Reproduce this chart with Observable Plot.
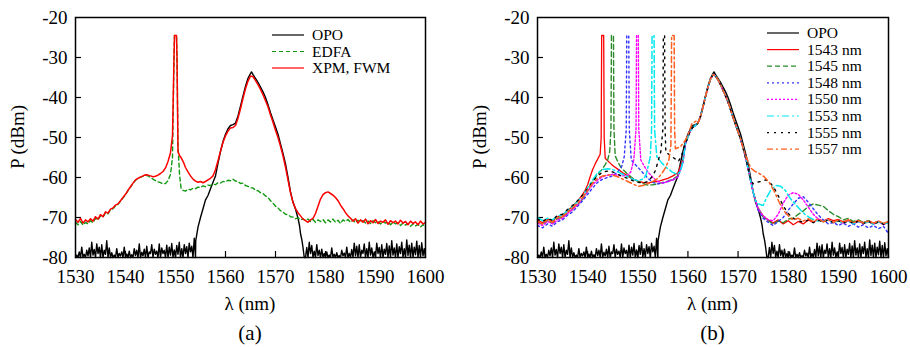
<!DOCTYPE html>
<html><head><meta charset="utf-8">
<script src="https://cdn.jsdelivr.net/npm/d3@7"></script>
<script src="https://cdn.jsdelivr.net/npm/@observablehq/plot@0.6"></script>
<style>
body{margin:0;background:#fff;}
#row{display:flex;width:910px;height:347px;}
</style></head><body><div id="row"></div>
<script>
const xTicks = [1530,1540,1550,1560,1570,1580,1590,1600];
const yTicks = [-80,-70,-60,-50,-40,-30,-20];
const panelLabels = ["(a)","(b)"];
const legendA = ["OPO","EDFA","XPM, FWM"];
const legendB = ["OPO","1543 nm","1545 nm","1548 nm","1550 nm","1553 nm","1555 nm","1557 nm"];

// OPO noise floor, sampled every 0.25 nm from 1530 and from 1576
const opoNoiseLeft = [
-80,-79.4,-80,-78.6, -80,-77.4,-80,-79.2, -80,-78.2,-79.6,-77.6, -80,-76.2,-79.4,-78.0,
-80,-76.6,-79.0,-77.4, -80,-76.8,-80,-78.2, -79.2,-75.8,-80,-77.6, -80,-78.8,-80,-79.4,
-80,-77.8,-80,-79.0, -79.6,-78.6,-80,-77.4, -80,-79.1,-80,-78.4, -80,-79.3,-80,-77.8,
-79.5,-78.2,-80,-76.6, -80,-78.7,-79.6,-77.9, -80,-77.2,-80,-78.6, -79,-76.8,-80,-77.9,
-79.2,-78.4,-80,-76.6, -80,-77.6,-79,-78.2, -80,-76.9,-80,-77.4, -79.4,-76.5,-80,-78.1,
-80,-77.0,-79.2,-76.2, -80,-77.8,-80,-76.8, -79.0,-77.3,-80,-76.4, -78.6,-77.2,-80,-75.2];
const opoMain = [[1554,-80],[1554.05,-75.8],[1554.5,-72.4],[1555,-70],[1555.5,-67.8],[1556,-65.6],[1556.5,-64.5],
[1557,-62.8],[1557.5,-61.2],[1558,-59.6],[1558.5,-56.4],[1559,-53.5],[1559.5,-51],[1560,-49.2],[1560.5,-47.8],
[1561,-47.0],[1561.5,-46.8],[1562,-46.4],[1562.5,-44.6],[1563,-42.2],[1563.5,-39.6],[1564,-37.2],[1564.5,-35.2],
[1565,-34.0],[1565.2,-33.6],[1565.5,-34.3],[1566,-35.2],[1566.5,-36.2],[1567,-37.4],[1567.5,-38.6],[1568,-40.0],
[1568.5,-41.8],[1569,-43.8],[1569.5,-45.6],[1570,-47.4],[1570.5,-49.2],[1571,-51.6],[1571.5,-54],[1572,-56.6],
[1572.5,-60],[1573,-63.6],[1573.5,-66.2],[1574,-67.9],[1574.5,-70.2],[1574.8,-72],[1575,-74],[1575.3,-75.8],
[1575.5,-77.5],[1575.75,-80]];
const opoNoiseRight = [
-80,-77.5,-80,-76.2, -79,-77,-80,-78.4, -80,-76.8,-79.5,-78.2, -80,-77.9,-80,-79, -80,-78.6,-80,-79.4,
-80,-77.6,-80,-79.2, -80,-78.8,-80,-79.5, -80,-78.2,-79.6,-78.9, -80,-77.4,-80,-79, -80,-78,-80,-76.4,
-79.6,-77.2,-80,-76.8, -80,-78.2,-79,-76.6, -80,-77.8,-80,-76.2, -79.4,-77.6,-80,-78.6, -80,-76.4,-79,-77.5,
-80,-76.8,-80,-77.9, -79.2,-76.5,-80,-77.1, -80,-75.8,-79.4,-77.6, -80,-76.6,-80,-77.3, -79,-76.2,-80,-77.8,
-80,-75.6,-79.5,-76.9, -80,-76.4,-80,-77.4, -79.3,-75.9,-80,-77, -80,-76.3,-79.6,-77.8, -80];

// Panel (a)
const xpmFwm = [[1530,-70.5],[1530.5,-71.2],[1531,-70.2],[1531.5,-71.4],[1532,-70.6],[1532.5,-71.1],[1533,-70.3],[1533.5,-70.9],
[1534,-69.8],[1534.5,-70.4],[1535,-69.3],[1535.5,-69.8],[1536,-68.6],[1536.5,-68.9],[1537,-67.9],[1537.5,-67.6],[1538,-66.9],
[1538.5,-66.6],[1539,-65.8],[1539.5,-65.0],[1540,-64.2],[1540.5,-63.2],[1541,-62.3],[1541.5,-61.4],[1542,-60.6],[1542.5,-60.2],
[1543,-59.9],[1543.5,-59.6],[1544,-59.3],[1544.5,-59.4],[1545,-59.6],[1545.5,-59.8],[1546,-59.7],[1546.5,-59.4],[1547,-59.0],
[1547.5,-58.5],[1548,-57.6],[1548.5,-56.0],[1549,-53.8],[1549.4,-49.5],[1549.7,-30],[1549.8,-24.5],[1550.2,-24.5],[1550.3,-30],
[1550.5,-53.5],[1550.8,-54.5],[1551.2,-55.2],[1551.6,-56.2],[1552,-57.5],[1552.5,-58.6],[1553,-59.6],[1553.5,-60.4],[1554,-60.9],
[1554.5,-61.2],[1555,-61.0],[1555.5,-61.3],[1556,-61.0],[1556.5,-60.6],[1557,-60.2],[1557.5,-59.6],[1558,-58.0],[1558.5,-55.8],
[1559,-53.4],[1559.5,-51.2],[1560,-49.6],[1560.5,-48.4],[1561,-47.6],[1561.5,-47.5],[1562,-47.0],[1562.5,-45.2],[1563,-42.8],
[1563.5,-40.2],[1564,-37.8],[1564.5,-35.9],[1565,-34.6],[1565.5,-34.8],[1566,-35.8],[1566.5,-36.8],[1567,-38.0],[1567.5,-39.3],
[1568,-40.8],[1568.5,-42.3],[1569,-44.4],[1569.5,-46.2],[1570,-48.2],[1570.5,-50.0],[1571,-52.2],[1571.5,-54.6],[1572,-57.4],
[1572.5,-60.6],[1573,-63.8],[1573.5,-66.2],[1574,-67.8],[1574.5,-68.8],[1575,-69.6],[1575.5,-70.4],[1576,-70.8],[1576.5,-71.2],
[1577,-70.6],[1577.5,-70.2],[1578,-69.0],[1578.5,-67.2],[1579,-65.4],[1579.5,-64.3],[1580,-63.8],[1580.5,-63.6],[1581,-64.0],
[1581.5,-64.4],[1582,-65.0],[1582.5,-65.8],[1583,-66.9],[1583.5,-67.8],[1584,-68.8],[1584.5,-69.6],[1585,-70.2],[1585.5,-70.9],
[1586,-70.3],[1586.5,-71.4],[1587,-70.6],[1587.5,-71.2],[1588,-70.4],[1588.5,-71.6],[1589,-70.8],[1589.5,-71.3],[1590,-70.5],
[1590.5,-71.5],[1591,-70.9],[1591.5,-71.2],[1592,-70.6],[1592.5,-71.7],[1593,-70.8],[1593.5,-71.3],[1594,-70.9],[1594.5,-71.6],
[1595,-70.7],[1595.5,-71.4],[1596,-71.0],[1596.5,-71.8],[1597,-70.9],[1597.5,-71.5],[1598,-71.1],[1598.5,-71.8],[1599,-70.9],
[1599.5,-71.6],[1600,-71.2]];
const edfa = [[1530,-71.2],[1530.5,-71.8],[1531,-71],[1531.5,-71.9],[1532,-71.2],[1532.5,-71.6],[1533,-70.8],[1533.5,-71.3],
[1534,-70.2],[1534.5,-70.6],[1535,-69.6],[1535.5,-69.9],[1536,-68.8],[1536.5,-69.1],[1537,-68.1],[1537.5,-67.8],[1538,-67.1],
[1538.5,-66.7],[1539,-65.9],[1539.5,-65.1],[1540,-64.3],[1540.5,-63.3],[1541,-62.4],[1541.5,-61.5],[1542,-60.7],[1542.5,-60.2],
[1543,-59.9],[1543.5,-59.7],[1544,-59.4],[1544.5,-59.6],[1545,-60.0],[1545.5,-60.4],[1546,-60.8],[1546.5,-61.1],[1547,-61.3],
[1547.5,-61.6],[1548,-61.5],[1548.5,-60.8],[1549,-59.2],[1549.4,-55],[1549.7,-30],[1549.8,-24.5],[1550.2,-24.5],[1550.3,-30],
[1550.5,-52],[1550.8,-59],[1551.1,-62.6],[1551.5,-63.2],[1552,-63.4],[1552.5,-62.9],[1553,-63.1],[1553.5,-62.7],[1554,-62.8],
[1554.5,-62.4],[1555,-62.5],[1555.5,-62.1],[1556,-62.3],[1556.5,-61.9],[1557,-62.0],[1557.5,-61.6],[1558,-61.8],[1558.5,-61.3],
[1559,-61.4],[1559.5,-61.0],[1560,-61.1],[1560.5,-60.7],[1561,-60.8],[1561.5,-60.4],[1562,-60.9],[1562.5,-61.0],[1563,-61.5],
[1563.5,-61.4],[1564,-62.0],[1564.5,-62.2],[1565,-62.6],[1565.5,-62.6],[1566,-63.2],[1566.5,-63.3],[1567,-63.8],[1567.5,-64.0],
[1568,-64.6],[1568.5,-65.0],[1569,-65.8],[1569.5,-66.4],[1570,-67.2],[1570.5,-67.6],[1571,-68.3],[1571.5,-68.6],[1572,-69.2],
[1572.5,-69.3],[1573,-69.8],[1573.5,-69.9],[1574,-70.3],[1574.5,-70.1],[1575,-70.6],[1575.5,-70.3],[1576,-70.8],[1576.5,-70.4],
[1577,-71.0],[1577.5,-70.5],[1578,-71.2],[1578.5,-70.6],[1579,-71.0],[1579.5,-70.5],[1580,-71.3],[1580.5,-70.6],[1581,-71.1],
[1581.5,-70.4],[1582,-71.2],[1582.5,-70.7],[1583,-71.5],[1583.5,-70.6],[1584,-71.0],[1584.5,-70.5],[1585,-71.2],[1585.5,-70.6],
[1586,-71.3],[1586.5,-70.7],[1587,-71.1],[1587.5,-70.8],[1588,-71.4],[1588.5,-70.9],[1589,-71.5],[1589.5,-70.8],[1590,-71.3],
[1590.5,-71.0],[1591,-71.6],[1591.5,-71.0],[1592,-71.4],[1592.5,-71.1],[1593,-71.8],[1593.5,-71.2],[1594,-71.6],[1594.5,-71.3],
[1595,-72.0],[1595.5,-71.4],[1596,-71.9],[1596.5,-71.5],[1597,-72.2],[1597.5,-71.6],[1598,-72.1],[1598.5,-71.7],[1599,-72.4],
[1599.5,-71.8],[1600,-72.2]];

// Panel (b): shared main lobe read once, plus each pump's own sides
const lobeB = [[1559.5,-51.6],[1560,-49.8],[1560.5,-48.3],[1561,-47.4],[1561.5,-47.0],[1562,-46.4],[1562.5,-44.8],[1563,-42.4],
[1563.5,-39.8],[1564,-37.4],[1564.5,-35.4],[1565,-34.3],[1565.5,-34.6],[1566,-35.6],[1566.5,-36.8],[1567,-38.2],[1567.5,-39.6],
[1568,-41.2],[1568.5,-43.0],[1569,-45.0],[1569.5,-46.8],[1570,-48.6],[1570.5,-50.4],[1571,-52.6],[1571.5,-55.0],[1572,-57.8],
[1572.5,-60.8],[1573,-63.6],[1573.5,-65.8]];

const p1543L = [[1530,-70.6],[1531,-71.3],[1532,-70.4],[1533,-70.9],[1534,-69.8],[1535,-69.4],[1536,-68.3],[1537,-67.2],[1538,-65.9],
[1539,-64.2],[1539.5,-63.2],[1540,-61.8],[1540.5,-59.8],[1541,-58.0],[1541.5,-56.6],[1542,-55.4],[1542.5,-54.2],[1542.7,-50],
[1542.8,-24.5],[1543.2,-24.5],[1543.3,-50],[1543.5,-55.2],[1544,-55.8],[1544.5,-56.4],[1545,-57.0],[1546,-57.9],[1547,-58.8],
[1548,-59.6],[1549,-60.4],[1550,-60.9],[1551,-61.2],[1552,-61.4],[1553,-61.1],[1554,-61.0],[1555,-60.6],[1556,-60.2],[1557,-59.6],
[1558,-58.8],[1559,-55.5]];
const p1543R = [[1574,-67.8],[1575,-69.6],[1576,-70.6],[1577,-71.4],[1578,-70.6],[1579,-71.6],[1580,-70.8],[1581,-71.8],[1582,-71.0],
[1583,-71.6],[1584,-70.6],[1585,-71.2],[1586,-70.4],[1587,-70.9],[1588,-70.3],[1589,-70.8],[1590,-70.5],[1591,-71.1],[1592,-70.6],
[1593,-71.2],[1594,-70.7],[1595,-71.3],[1596,-70.8],[1597,-71.4],[1598,-70.9],[1599,-71.5],[1600,-71.0]];
const p1545L = [[1530,-71.0],[1531,-71.8],[1532,-70.8],[1533,-71.5],[1534,-70.2],[1535,-70.0],[1536,-68.9],[1537,-67.9],[1538,-66.8],
[1539,-65.4],[1540,-63.4],[1541,-61.0],[1542,-59.2],[1543,-57.8],[1543.5,-56.8],[1544,-55.6],[1544.4,-53.5],[1544.65,-48],
[1544.75,-24.5],[1545.15,-24.5],[1545.25,-48],[1545.5,-54.6],[1546,-56.0],[1546.5,-57.2],[1547,-58.0],[1548,-59.2],[1549,-60.2],
[1550,-60.9],[1551,-61.5],[1552,-61.9],[1553,-61.8],[1554,-61.6],[1555,-61.2],[1556,-60.9],[1557,-60.4],[1558,-59.6],[1559,-56]];
const p1545R = [[1574,-67.6],[1575,-69.8],[1576,-70.8],[1577,-71.6],[1578,-70.9],[1579,-71.3],[1580,-70.4],[1581,-70.2],[1582,-69.2],
[1583,-68.4],[1584,-67.2],[1585,-66.6],[1586,-66.9],[1587,-67.2],[1588,-68.3],[1589,-69.2],[1590,-69.8],[1591,-70.6],[1592,-70.2],
[1593,-71.0],[1594,-70.6],[1595,-71.3],[1596,-70.8],[1597,-71.5],[1598,-71.0],[1599,-71.6],[1600,-71.2]];
const p1548L = [[1530,-72.0],[1531,-72.6],[1532,-71.6],[1533,-72.2],[1534,-71.0],[1535,-70.6],[1536,-69.4],[1537,-68.6],[1538,-67.2],
[1539,-65.8],[1540,-64.2],[1541,-62.6],[1542,-61.2],[1543,-60.4],[1544,-60.0],[1545,-59.6],[1546,-58.6],[1546.8,-57.2],[1547.3,-54.8],
[1547.7,-48],[1547.8,-24.5],[1548.2,-24.5],[1548.3,-48],[1548.7,-55.6],[1549.2,-56.4],[1550,-57.4],[1551,-58.8],[1552,-60.2],
[1553,-61.2],[1554,-61.6],[1555,-61.4],[1556,-61.0],[1557,-60.6],[1558,-59.8],[1559,-56.2]];
const p1548R = [[1574,-68.2],[1575,-70.2],[1576,-71.2],[1577,-72.0],[1578,-71.0],[1579,-70.0],[1580,-68.2],[1581,-66.6],[1582,-65.2],
[1583,-64.8],[1584,-66.2],[1585,-67.8],[1586,-69.4],[1587,-70.6],[1588,-71.6],[1589,-71.2],[1590,-72.0],[1591,-71.4],[1592,-72.2],
[1593,-71.6],[1594,-72.4],[1595,-71.8],[1596,-72.6],[1597,-72.0],[1598,-72.8],[1599,-72.2],[1600,-74.0]];
const p1550L = [[1530,-71.4],[1531,-72.0],[1532,-71.0],[1533,-71.6],[1534,-70.6],[1535,-70.2],[1536,-69.0],[1537,-68.0],[1538,-66.8],
[1539,-65.2],[1540,-63.4],[1541,-61.8],[1542,-60.6],[1543,-59.8],[1544,-59.4],[1545,-59.2],[1546,-59.4],[1547,-59.6],[1548,-59.4],
[1548.6,-58.6],[1549.2,-55.6],[1549.65,-48],[1549.75,-24.5],[1550.1,-24.5],[1550.2,-48],[1550.6,-55.6],[1551.2,-57.0],[1552,-58.6],
[1553,-60.0],[1554,-61.0],[1555,-61.4],[1556,-61.0],[1557,-60.6],[1558,-59.8],[1559,-56.2]];
const p1550R = [[1574,-67.8],[1575,-69.6],[1576,-70.6],[1577,-70.8],[1578,-69.2],[1579,-66.4],[1580,-64.4],[1581,-63.8],[1582,-64.2],
[1583,-65.6],[1584,-67.4],[1585,-69.2],[1586,-70.4],[1587,-71.0],[1588,-70.6],[1589,-71.3],[1590,-70.8],[1591,-71.5],[1592,-70.9],
[1593,-71.6],[1594,-71.0],[1595,-71.6],[1596,-71.0],[1597,-71.7],[1598,-71.1],[1599,-71.8],[1600,-71.2]];
const p1553L = [[1530,-70.0],[1531,-70.8],[1532,-70.2],[1533,-70.6],[1534,-69.6],[1535,-69.4],[1536,-68.2],[1537,-67.2],[1538,-66.0],
[1539,-64.6],[1540,-62.6],[1541,-60.6],[1542,-58.8],[1543,-58.0],[1544,-57.8],[1545,-58.0],[1546,-58.6],[1547,-59.2],[1548,-59.8],
[1549,-60.4],[1550,-60.8],[1551,-60.4],[1551.6,-59.6],[1552.1,-57.0],[1552.5,-54.8],[1552.75,-48],[1552.85,-24.5],[1553.25,-24.5],
[1553.35,-48],[1553.8,-54.8],[1554.8,-56.4],[1555.8,-57.6],[1556.8,-58.6],[1557.8,-59.2],[1558.5,-58.6],[1559,-56]];
const p1553R = [[1574,-66.6],[1575,-67.0],[1575.7,-65.0],[1576.5,-63.2],[1577.5,-62.0],[1578.5,-62.2],[1579.4,-63.2],[1580.5,-65.4],
[1581.5,-66.8],[1582.5,-68.2],[1583.5,-69.4],[1584.5,-70.2],[1585.5,-70.8],[1587,-71.0],[1588,-70.6],[1589,-71.3],[1590,-70.8],
[1591,-71.4],[1592,-70.9],[1593,-71.6],[1594,-71.0],[1595,-71.5],[1596,-71.1],[1597,-71.7],[1598,-71.1],[1599,-71.6],[1600,-71.3]];
const p1555L = [[1530,-70.4],[1531,-71.0],[1532,-70.2],[1533,-70.8],[1534,-69.4],[1535,-69.2],[1536,-68.0],[1537,-67.0],[1538,-65.8],
[1539,-64.4],[1540,-62.8],[1541,-61.0],[1542,-59.6],[1543,-58.6],[1544,-58.4],[1545,-58.6],[1546,-59.2],[1547,-59.8],[1548,-60.2],
[1549,-60.8],[1550,-61.2],[1551,-61.4],[1552,-61.0],[1553,-59.6],[1553.6,-58.0],[1554.1,-55.6],[1554.6,-53.5],[1555.0,-48],
[1555.1,-24.5],[1555.35,-24.5],[1555.45,-48],[1555.6,-53.8],[1556.2,-54.2],[1556.8,-54.8],[1557.5,-55.4],[1558.1,-56.0],
[1558.8,-54.2],[1559.3,-52.2]];
const p1555R = [[1572.5,-60.4],[1573,-61.6],[1573.75,-61.2],[1574.5,-61.0],[1575.5,-60.6],[1576.3,-61.2],[1577.1,-62.4],[1578.1,-64.8],
[1579.1,-67.3],[1580,-69.0],[1581,-70.2],[1582,-70.8],[1583,-71.2],[1584,-70.6],[1585,-71.3],[1586,-70.7],[1587,-71.2],[1588,-70.6],
[1589,-71.3],[1590,-70.8],[1591,-71.4],[1592,-70.8],[1593,-71.5],[1594,-70.9],[1595,-71.5],[1596,-71.0],[1597,-71.6],[1598,-71.1],
[1599,-71.7],[1600,-71.2]];
const p1557L = [[1530,-71.0],[1531,-71.6],[1532,-70.6],[1533,-71.2],[1534,-70.0],[1535,-69.8],[1536,-68.6],[1537,-67.6],[1538,-66.4],
[1539,-65.0],[1540,-63.2],[1541,-61.4],[1542,-60.2],[1543,-59.6],[1544,-59.4],[1545,-59.4],[1546,-59.8],[1547,-60.4],[1548,-61.0],
[1549,-61.6],[1550,-62.2],[1551,-62.0],[1552,-61.6],[1553,-61.0],[1554,-60.2],[1554.8,-59.0],[1555.6,-57.4],[1556.2,-55.6],
[1556.6,-52],[1556.75,-24.5],[1557.25,-24.5],[1557.35,-48],[1557.5,-52.8],[1558.5,-52.3],[1559.5,-50.7],[1560.3,-48.4],
[1560.8,-46.5],[1561.8,-45.8]];
const p1557R = [[1571.5,-54.6],[1572,-56.0],[1572.5,-57.6],[1573.3,-58.4],[1574.2,-59.0],[1575.2,-59.8],[1576.2,-61.2],[1577.2,-63.4],
[1578.2,-66.2],[1579.2,-68.4],[1580.2,-69.8],[1581,-70.6],[1582,-70.2],[1583,-70.9],[1584,-70.3],[1585,-71.0],[1586,-70.4],
[1587,-71.1],[1588,-70.5],[1589,-71.2],[1590,-70.6],[1591,-71.2],[1592,-70.7],[1593,-71.3],[1594,-70.8],[1595,-71.4],[1596,-70.9],
[1597,-71.4],[1598,-70.9],[1599,-71.5],[1600,-71.0]];

// assemble
const opo = [
  ...opoNoiseLeft.map((v, i) => [1530 + i * 0.25, v]),
  ...opoMain,
  ...opoNoiseRight.map((v, i) => [1576 + i * 0.25, v])
];
const lobe = (lo, hi) => lobeB.filter(d => d[0] >= lo && d[0] <= hi);
const pumps = [
  [...p1543L, ...lobe(1559.5, 1573.5), ...p1543R],
  [...p1545L, ...lobe(1559.5, 1573.5), ...p1545R],
  [...p1548L, ...lobe(1559.5, 1573.5), ...p1548R],
  [...p1550L, ...lobe(1559.5, 1573.5), ...p1550R],
  [...p1553L, ...lobe(1559.5, 1573.5), ...p1553R],
  [...p1555L, ...lobe(1559.5, 1572), ...p1555R],
  [...p1557L, ...lobe(1562, 1571), ...p1557R]
];

const FONT = '"Liberation Serif","Times New Roman",serif';
const stylesA = [
  {color:"#000000", dash:null, w:1.4},
  {color:"#119911", dash:"4,3", w:1.4},
  {color:"#ff0000", dash:null, w:1.5}
];
const stylesB = [
  {color:"#000000", dash:null, w:1.4},
  {color:"#ff0000", dash:null, w:1.3},
  {color:"#2a8c2a", dash:"5,3", w:1.4},
  {color:"#3333ff", dash:"2,3", w:1.4},
  {color:"#ff00ff", dash:"2,2", w:1.4},
  {color:"#00e8f0", dash:"7,3,2,3", w:1.5},
  {color:"#000000", dash:"2,5", w:1.4},
  {color:"#ff5f1f", dash:"6,3,2,3", w:1.5}
];

function panel({series, styles, names, label, ml, mr, legX, legY0, legDy, yLabelX}) {
  const W = 455, H = 347, mt = 17, mb = 90;
  const iw = W - ml - mr, ih = H - mt - mb;
  const lines = series.map((s, i) => Plot.line(s, {
    x: d => d[0], y: d => d[1], stroke: styles[i].color,
    strokeWidth: styles[i].w, strokeDasharray: styles[i].dash
  }));
  const svg = Plot.plot({
    width: W, height: H, marginLeft: ml, marginRight: mr, marginTop: mt, marginBottom: mb,
    x: {domain: [1530, 1600]}, y: {domain: [-80, -20]},
    style: {fontFamily: FONT, fontSize: "19px", background: "white", color: "black"},
    marks: [
      Plot.tickX(xTicks.slice(1, -1), {x: d => d, insetTop: ih - 6, stroke: "black", strokeWidth: 1.2}),
      Plot.tickY(yTicks.slice(1, -1), {y: d => d, insetRight: iw - 6, stroke: "black", strokeWidth: 1.2}),
      Plot.axisX({ticks: xTicks, tickSize: 0, tickPadding: 12, tickFormat: d => String(d), label: null}),
      Plot.axisY({ticks: yTicks, tickSize: 0, tickPadding: 8, tickFormat: d => String(d), label: null}),
      ...lines,
      Plot.frame({stroke: "black", strokeWidth: 1.5})
    ]
  });
  const s = d3.select(svg);
  const cx = ml + iw / 2;
  s.append("text").attr("x", cx).attr("y", 310).attr("text-anchor", "middle")
    .style("font-family", FONT).style("font-size", "19px").text("λ (nm)");
  s.append("text").attr("x", cx).attr("y", 340).attr("text-anchor", "middle")
    .style("font-family", FONT).style("font-size", "21px").text(label);
  s.append("text").attr("transform", `translate(${yLabelX},${mt + ih / 2}) rotate(-90)`).attr("text-anchor", "middle")
    .style("font-family", FONT).style("font-size", "19px").text("P (dBm)");
  const g = s.append("g");
  names.forEach((n, i) => {
    const y = legY0 + i * legDy;
    g.append("line").attr("x1", legX).attr("x2", legX + 32).attr("y1", y).attr("y2", y)
      .attr("stroke", styles[i].color).attr("stroke-width", 1.2)
      .attr("stroke-dasharray", styles[i].dash);
    g.append("text").attr("x", legX + 40).attr("y", y + 5).attr("text-anchor", "start")
      .style("text-anchor", "start")
      .style("font-family", FONT).style("font-size", "15.5px").text(n);
  });
  return svg;
}

const row = document.getElementById("row");
row.append(panel({
  series: [opo, edfa, xpmFwm], styles: stylesA, names: legendA, label: panelLabels[0],
  ml: 75, mr: 30, legX: 272, legY0: 35, legDy: 16.5, yLabelX: 24
}));
row.append(panel({
  series: [opo, ...pumps], styles: stylesB, names: legendB, label: panelLabels[1],
  ml: 82, mr: 22, legX: 312, legY0: 33, legDy: 16.6, yLabelX: 31
}));
</script></body></html>
